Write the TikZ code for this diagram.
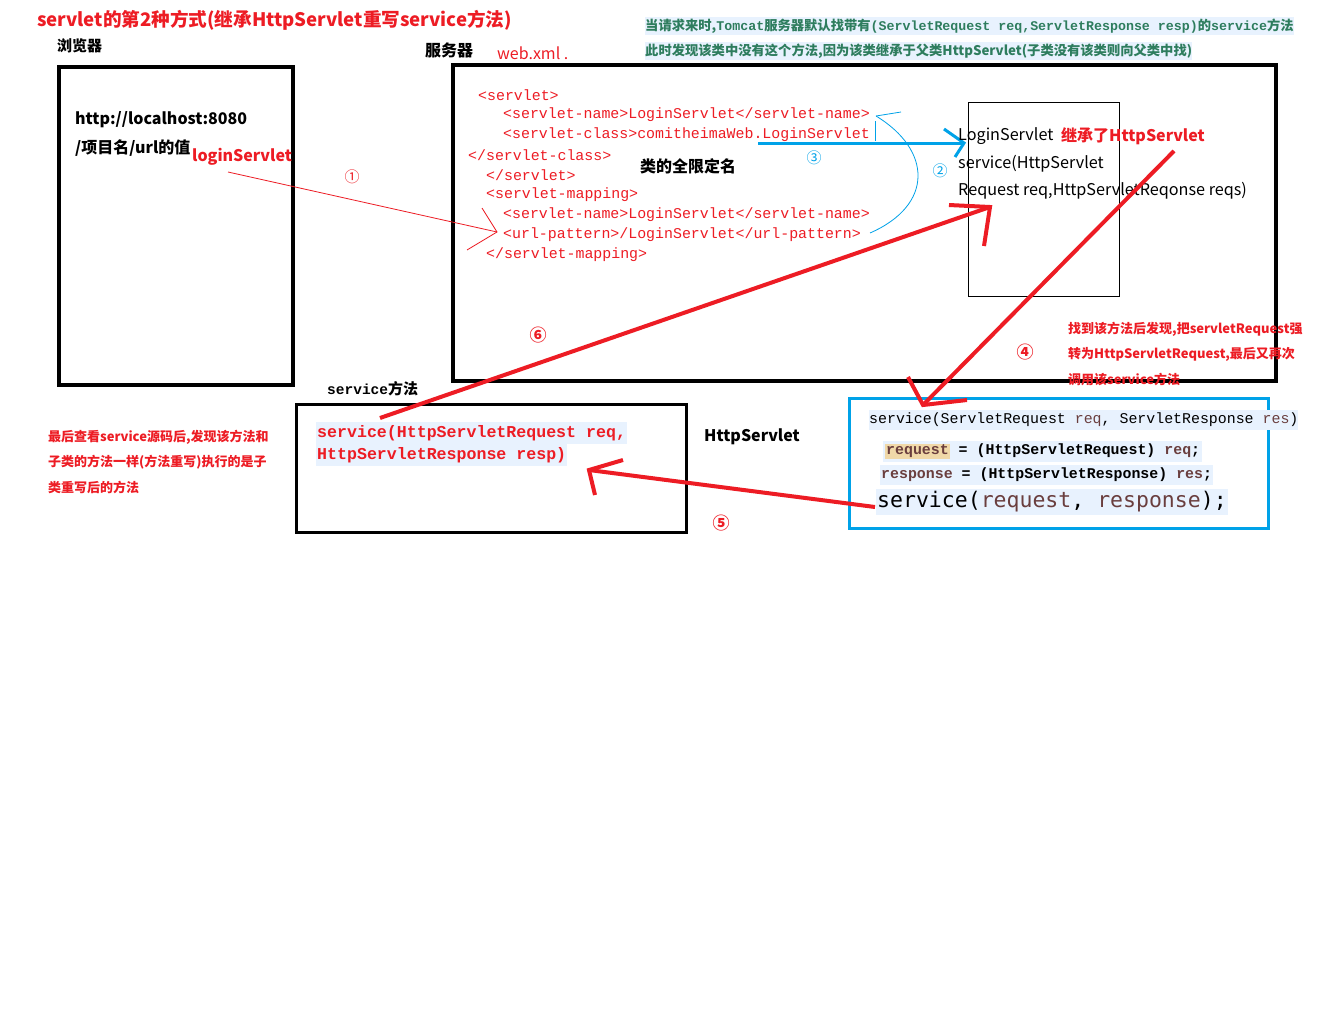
\documentclass[tikz,border=0pt]{standalone}
\usepackage{fontspec}
\newfontfamily\cjk{Noto Sans CJK SC}
\newfontfamily\mono{Liberation Mono}
\newfontfamily\dmono{DejaVu Sans Mono}
\newcommand\fsz[1]{\fontsize{#1}{#1}\selectfont}
\definecolor{pred}{HTML}{ED1C24}
\definecolor{pblue}{HTML}{00A2E8}
\definecolor{lbg}{HTML}{E8F2FE}
\definecolor{pgreen}{HTML}{2E7D5E}
\definecolor{pbrown}{HTML}{6A3E3E}
\definecolor{ptan}{HTML}{F0D8A8}
\tikzset{
  txt/.style={anchor=west, inner sep=0pt, yshift=-2pt},
  bigbox/.style={draw=black, anchor=north west, inner sep=0pt, outer sep=0pt},
  redarrow/.style={draw=pred, line width=4pt},
  thinred/.style={draw=pred, line width=0.8pt},
  xml/.style={txt, text=pred, font=\mono\fsz{14.9}},
  redcjk/.style={txt, text=pred, font=\cjk\bfseries\fsz{13}},
}
\begin{document}
\begin{tikzpicture}[x=1pt,y=-1pt]
\useasboundingbox (0,0) rectangle (1331,1026);
\fill[white] (0,0) rectangle (1331,1026);

% title
\node[txt, text=pred, font=\cjk\bfseries\fsz{18.6}] (title) at (37,18) {servlet的第2种方式(继承HttpServlet重写service方法)};

% top right note
\node[txt, fill=lbg, inner ysep=2pt, text=pgreen, font=\cjk\bfseries\fsz{13.3}] (note1) at (645,24) {当请求来时,{\mono\bfseries Tomcat}服务器默认找带有{\mono\bfseries(ServletRequest req,ServletResponse resp)}的{\mono\bfseries service}方法};
\node[txt, fill=lbg, inner ysep=2pt, text=pgreen, font=\cjk\bfseries\fsz{13.3}] (note2) at (645,49) {此时发现该类中没有这个方法,因为该类继承于父类HttpServlet(子类没有该类则向父类中找)};

% browser
\node[txt, font=\cjk\bfseries\fsz{15}] (browserlbl) at (57,44) {浏览器};
\node[bigbox, line width=4pt, minimum width=234pt, minimum height=318pt] (browser) at (59,67) {};
\node[txt, font=\cjk\bfseries\fsz{16}] (url1) at (75,118) {http://localhost:8080};
\node[txt, font=\cjk\bfseries\fsz{16}] (url2) at (75,146) {/项目名/url的值};
\node[txt, text=pred, font=\cjk\bfseries\fsz{16}] (login) at (192,155) {loginServlet};

% server
\node[txt, font=\cjk\bfseries\fsz{16}] (serverlbl) at (425,48) {服务器};
\node[txt, text=pred, font=\cjk\fsz{16}] (webxml) at (497,51) {web.xml .};
\node[bigbox, line width=4pt, minimum width=823pt, minimum height=316pt] (server) at (453,65) {};

% xml
\node[xml] (x1) at (478,93) {<servlet>};
\node[xml] (x2) at (503,113) {<servlet-name>LoginServlet</servlet-name>};
\node[xml] (x3) at (503,133) {<servlet-class>comitheimaWeb.LoginServlet};
\node[xml] (x4) at (468,153) {</servlet-class>};
\node[xml] (x5) at (486,173) {</servlet>};
\node[xml] (x6) at (486,193) {<servlet-mapping>};
\node[xml] (x7) at (503,213) {<servlet-name>LoginServlet</servlet-name>};
\node[xml] (x8) at (503,233) {<url-pattern>/LoginServlet</url-pattern>};
\node[xml] (x9) at (486,253) {</servlet-mapping>};
\node[txt, font=\cjk\bfseries\fsz{16}] (fqn) at (640,164) {类的全限定名};

% arrow 1
\coordinate (c1s) at (228,172);
\coordinate (c1e) at (497,232);
\coordinate (c1a) at (482,208);
\coordinate (c1b) at (467,250);
\draw[thinred] (c1s) -- (c1e);
\draw[thinred] (c1a) -- (c1e) -- (c1b);
\node[text=pred, font=\cjk\fsz{15}, inner sep=0pt] (n1) at (352,177) {①};

% arrow 2 (thin blue curve)
\coordinate (c2s) at (870,233);
\coordinate (c2e) at (876,116);
\coordinate (c2a) at (901,112);
\draw[pblue, line width=0.8pt] (c2s) .. controls (934,205) and (932,150) .. (c2e);
\draw[pblue, line width=0.8pt] (c2a) -- (c2e);
\draw[pblue, line width=1pt] (875,121) -- (875,141);
\node[text=pblue, font=\cjk\fsz{15}, inner sep=0pt] (n2) at (940,171) {②};

% arrow 3 (thick blue)
\coordinate (c3s) at (758,143);
\coordinate (c3e) at (964,143);
\coordinate (c3a) at (944,129);
\coordinate (c3b) at (955,157);
\draw[pblue, line width=3pt] (c3s) -- (c3e);
\draw[pblue, line width=3pt] (c3a) -- (c3e) -- (c3b);
\node[text=pblue, font=\cjk\fsz{15}, inner sep=0pt] (n3) at (814,158) {③};

% LoginServlet box
\node[bigbox, line width=0.8pt, minimum width=151pt, minimum height=194pt] (lsbox) at (968,102) {};
\node[txt, font=\cjk\fsz{16.2}] (ls1) at (958,134) {LoginServlet};
\node[txt, text=pred, font=\cjk\bfseries\fsz{16}] (ls1b) at (1061,134) {继承了HttpServlet};
\node[txt, font=\cjk\fsz{16.2}] (ls2) at (958,162) {service(HttpServlet};
\node[txt, font=\cjk\fsz{16.2}] (ls3) at (958,189) {Request req,HttpServletReqonse reqs)};

% right note
\node[redcjk] (r1) at (1068,327) {找到该方法后发现,把servletRequest强};
\node[redcjk] (r2) at (1068,352) {转为HttpServletRequest,最后又再次};
\node[redcjk] (r3) at (1068,377) {调用该service方法};
\node[text=pred, font=\cjk\bfseries\fsz{17}, inner sep=0pt] (n4) at (1025,352) {④};

% blue box (HttpServlet service)
\node[bigbox, draw=pblue, line width=3pt, minimum width=419pt, minimum height=130pt] (hsbox) at (849,398) {};
\node[txt, fill=lbg, inner ysep=3pt, font=\mono\fsz{14.9}] (h1) at (869,418) {service(ServletRequest \textcolor{pbrown}{req}, ServletResponse \textcolor{pbrown}{res})};
\node[txt, fill=lbg, inner ysep=3pt, inner xsep=2pt, font=\mono\bfseries\fsz{14.9}] (h2) at (883,449) {{\setlength{\fboxsep}{1pt}\colorbox{ptan}{\textcolor{pbrown}{request}}} = (HttpServletRequest) \textcolor{pbrown}{req};};
\node[txt, fill=lbg, inner ysep=3pt, inner xsep=1pt, font=\mono\bfseries\fsz{14.9}] (h3) at (880,473) {\textcolor{pbrown}{response} = (HttpServletResponse) \textcolor{pbrown}{res};};
\node[txt, fill=lbg, inner ysep=3pt, inner xsep=1pt, font=\dmono\fsz{21.5}] (h4) at (876,500) {service(\textcolor{pbrown}{request}, \textcolor{pbrown}{response});};

% service box (subclass)
\node[txt, font=\cjk\bfseries\fsz{15}] (svclbl) at (327,387) {{\mono\bfseries\fsz{14.5}service}方法};
\node[bigbox, line width=3pt, minimum width=390pt, minimum height=128pt] (svbox) at (296,404) {};
\node[txt, fill=lbg, inner ysep=3pt, inner xsep=1pt, text=pred, font=\mono\bfseries\fsz{16.6}] (s1) at (316,431) {service(HttpServletRequest req, };
\node[txt, fill=lbg, inner ysep=3pt, inner xsep=1pt, text=pred, font=\mono\bfseries\fsz{16.6}] (s2) at (316,453) {HttpServletResponse resp)};
\node[txt, font=\cjk\bfseries\fsz{16}] (hslbl) at (704,435) {HttpServlet};

% left note
\node[redcjk] (l1) at (48,435) {最后查看service源码后,发现该方法和};
\node[redcjk] (l2) at (48,460) {子类的方法一样(方法重写)执行的是子};
\node[redcjk] (l3) at (48,485) {类重写后的方法};

% arrow 4
\coordinate (c4s) at (1174,151);
\coordinate (c4e) at (923,405);
\coordinate (c4a) at (908,377);
\coordinate (c4b) at (967,400);
\draw[redarrow] (c4s) -- (c4e);
\draw[redarrow] (c4a) -- (c4e) -- (c4b);

% arrow 5
\coordinate (c5s) at (875,507);
\coordinate (c5e) at (589,470);
\coordinate (c5a) at (623,460);
\coordinate (c5b) at (595,495);
\draw[redarrow] (c5s) -- (c5e);
\draw[redarrow] (c5a) -- (c5e) -- (c5b);
\node[text=pred, font=\cjk\bfseries\fsz{17}, inner sep=0pt] (n5) at (721,523) {⑤};

% arrow 6
\coordinate (c6s) at (380,418);
\coordinate (c6e) at (990,207);
\coordinate (c6a) at (949,205);
\coordinate (c6b) at (984,246);
\draw[redarrow] (c6s) -- (c6e);
\draw[redarrow] (c6a) -- (c6e) -- (c6b);
\node[text=pred, font=\cjk\bfseries\fsz{17}, inner sep=0pt] (n6) at (538,335) {⑥};
\end{tikzpicture}
\end{document}
